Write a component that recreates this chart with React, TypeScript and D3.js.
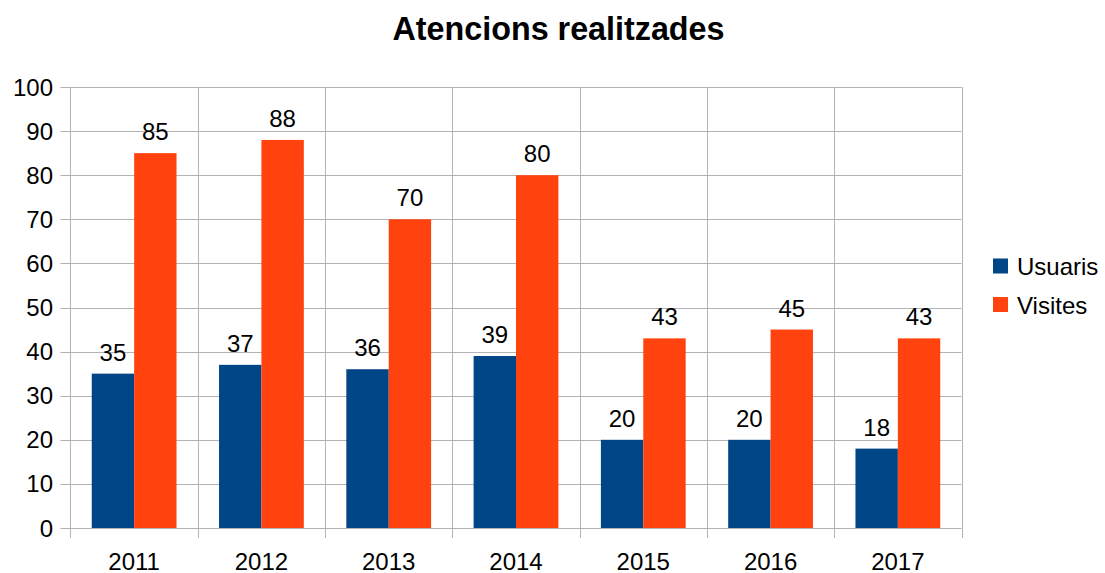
import React from "react";
import * as d3 from "d3";

const categories = ["2011", "2012", "2013", "2014", "2015", "2016", "2017"];
const usuaris = [35, 37, 36, 39, 20, 20, 18];
const visites = [85, 88, 70, 80, 43, 45, 43];
const seriesNames = ["Usuaris", "Visites"];
const colors = ["#004586", "#ff420e"];
const yTicks = [0, 10, 20, 30, 40, 50, 60, 70, 80, 90, 100];

export default function App() {
  const W = 1105, H = 573;
  const left = 70.5, right = 961.5, top = 87, bottom = 528;
  const font = "'Liberation Sans', Arial, sans-serif";
  const fs = 24;
  const x = d3.scaleBand().domain(categories).range([left, right]).paddingInner(0).paddingOuter(0);
  const y = d3.scaleLinear().domain([0, 100]).range([bottom, top]);
  const bw = x.bandwidth();
  const barW = bw * 0.333;
  const series = [usuaris, visites];
  return (
    <svg width={W} height={H} style={{ position: "absolute", left: 0, top: 0 }} fontFamily={font}>
      <rect width={W} height={H} fill="#fff" />
      <text x={558.5} y={39.5} textAnchor="middle" fontSize={32.3} fontWeight="bold">Atencions realitzades</text>
      {yTicks.map((t) => (
        <g key={t}>
          <line x1={left - 10} x2={right} y1={Math.round(y(t)) + 0.5} y2={Math.round(y(t)) + 0.5} stroke="#b3b3b3" strokeWidth={1} />
          <text x={53} y={y(t) + 8.5} textAnchor="end" fontSize={fs}>{t}</text>
        </g>
      ))}
      <line x1={left} x2={left} y1={top} y2={bottom + 10} stroke="#b3b3b3" />
      {categories.map((c) => (
        <line key={c} x1={Math.round(x(c)! + bw) + 0.5} x2={Math.round(x(c)! + bw) + 0.5} y1={top} y2={bottom + 10} stroke="#b3b3b3" />
      ))}
      {categories.map((c, i) => {
        const cx = x(c)! + bw / 2;
        return (
          <g key={c}>
            {series.map((s, k) => {
              const bx = cx - barW + k * barW;
              return (
                <g key={k}>
                  <rect x={bx} y={y(s[i])} width={barW} height={bottom - y(s[i])} fill={colors[k]} />
                  <text x={bx + barW / 2} y={y(s[i]) - 13} textAnchor="middle" fontSize={fs}>{s[i]}</text>
                </g>
              );
            })}
            <text x={cx} y={569.5} textAnchor="middle" fontSize={fs}>{c}</text>
          </g>
        );
      })}
      {seriesNames.map((n, k) => (
        <g key={n}>
          <rect x={993} y={258.5 + k * 38.5} width={15} height={15} fill={colors[k]} />
          <text x={1017} y={275 + k * 38.5} fontSize={fs}>{n}</text>
        </g>
      ))}
    </svg>
  );
}
